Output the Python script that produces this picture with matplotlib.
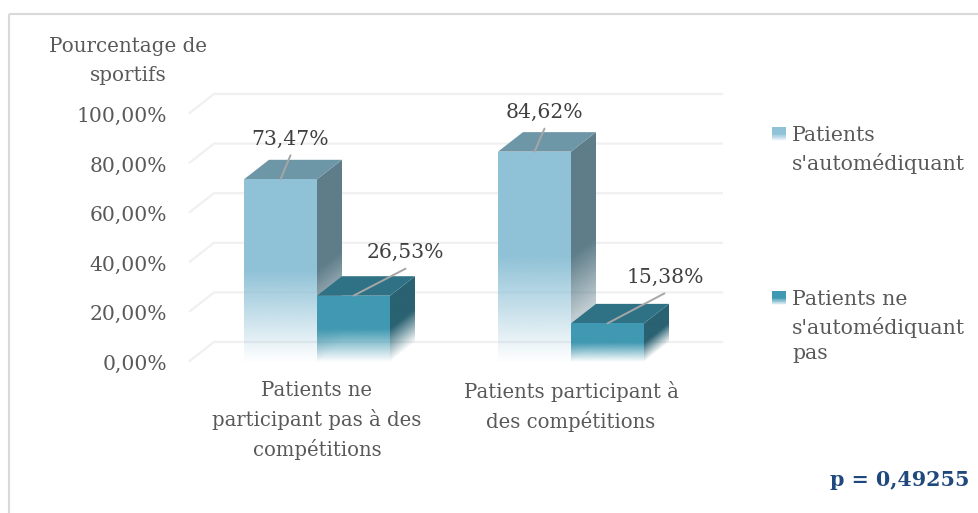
import numpy as np
import matplotlib
matplotlib.use("Agg")
import matplotlib.pyplot as plt
from matplotlib.colors import to_rgb
from matplotlib.patches import Polygon, Rectangle
from matplotlib.transforms import Affine2D, ScaledTranslation

categories = ["Patients ne\nparticipant pas à des\ncompétitions", "Patients participant à\ndes compétitions"]
series_names = ["Patients\ns'automédiquant", "Patients ne\ns'automédiquant\npas"]
automed = [73.47, 84.62]
non_automed = [26.53, 15.38]
labels_a = ["73,47%", "84,62%"]
labels_b = ["26,53%", "15,38%"]
yticks = [0, 20, 40, 60, 80, 100]
yticklabels = ["0,00%", "20,00%", "40,00%", "60,00%", "80,00%", "100,00%"]

W, H = 979, 513
FONT = "DejaVu Serif"
plt.rcParams["font.family"] = FONT
fig = plt.figure(figsize=(W / 100, H / 100), dpi=100, facecolor="white")
PX = Affine2D().scale(1, -1).translate(0, H)

# plot area in pixels
L, R, B, T = 189, 723, 361.5, 113.5
ax = fig.add_axes([L / W, 1 - B / H, (R - L) / W, (B - T) / H])
ax.patch.set_alpha(0)
for s in ax.spines.values():
    s.set_visible(False)
per_cat = 254.0
per_pct = (B - T) / 100
x0px = 317
xlim = ((L - x0px) / per_cat, (R - x0px) / per_cat)
depth_x = 25 / per_cat
depth_y = 19.5 / per_pct
bar_w = 73 / per_cat

# chart border
fig.add_artist(Rectangle((9, 13.5), 990, 520, transform=PX, fill=False, ec="#D9D9D9", lw=1.5))

# walls: floor + back grid
GRID = "#F0F0F0"
for v in yticks:
    ax.plot([xlim[0], xlim[0] + depth_x, xlim[1]], [v, v + depth_y, v + depth_y],
            color=GRID, lw=1.6, clip_on=False, zorder=1, solid_capstyle="butt", solid_joinstyle="round")


def face(x0, x1, rise, h, colour, z):
    """Sheared quad with vertical fade: solid on upper half, fading on lower half."""
    nx, ny = 60, 400
    y_top = h + rise
    xs = np.linspace(0, 1, nx)
    ys = np.linspace(0, y_top, ny)
    XX, YY = np.meshgrid(xs, ys)
    t = (YY - XX * rise) / h
    rgba = np.zeros((ny, nx, 4))
    rgba[..., :3] = to_rgb(colour)
    rgba[..., 3] = np.clip(t / 0.5, 0.02, 1)
    im = ax.imshow(rgba, extent=(x0, x1, 0, y_top), origin="lower", aspect="auto",
                   interpolation="bilinear", zorder=z)
    poly = Polygon([(x0, 0), (x1, rise), (x1, h + rise), (x0, h)], closed=True,
                   transform=ax.transData, fc="none", ec="none")
    im.set_clip_path(poly)


def bar3d(xc, v, front, top, side, z):
    l, r = xc - bar_w / 2, xc + bar_w / 2
    face(r, r + depth_x, depth_y, v, side, z)
    ax.add_patch(Polygon([(l, v), (r, v), (r + depth_x, v + depth_y), (l + depth_x, v + depth_y)],
                         closed=True, fc=top, ec="none", zorder=z, clip_on=False))
    face(l, r, 0, v, front, z + 0.1)


FA, TA, SA = "#90C2D7", "#6D97A6", "#5E7D89"
FB, TB, SB = "#4099B2", "#2F7285", "#2A6272"

for i in range(2):
    bar3d(i - bar_w / 2, automed[i], FA, TA, SA, 2 + i)
    bar3d(i + bar_w / 2, non_automed[i], FB, TB, SB, 2.5 + i)

# data labels with leader lines: (line dx, line dy, text dx, text dy) in pixels
LINE = "#A6A6A6"
TXT = "#404040"
ann = [
    (0 - bar_w / 2, automed[0], labels_a[0], 10, 24, 10, 40),
    (0 + bar_w / 2, non_automed[0], labels_b[0], 52, 27, 52, 43),
    (1 - bar_w / 2, automed[1], labels_a[1], 10, 23, 10, 39),
    (1 + bar_w / 2, non_automed[1], labels_b[1], 57, 30, 58, 46),
]
for x, v, s, lx, ly, tx, ty in ann:
    ax.annotate("", xy=(x, v), xytext=(lx * 0.72, ly * 0.72), textcoords="offset points",
                arrowprops=dict(arrowstyle="-", color=LINE, lw=1.4, shrinkA=0, shrinkB=0),
                annotation_clip=False, zorder=8)
    ax.annotate(s, xy=(x, v), xytext=(tx * 0.72, ty * 0.72), textcoords="offset points",
                ha="center", va="center", fontsize=14.7, color=TXT, zorder=9, annotation_clip=False)

ax.set_xlim(*xlim)
ax.set_ylim(0, 100)
ax.set_yticks(yticks)
ax.set_yticklabels(yticklabels, fontsize=14.6, color="#595959")
ax.set_xticks([0, 1])
ax.set_xticklabels(categories, fontsize=14.1, color="#595959", linespacing=1.52)
ax.tick_params(axis="both", length=0)
ax.tick_params(axis="y", pad=15.8)
ax.tick_params(axis="x", pad=14)
for lab in ax.get_yticklabels():
    lab.set_transform(lab.get_transform() + ScaledTranslation(0, -1 / 100, fig.dpi_scale_trans))

# axis title
fig.text(128, 61, "Pourcentage de\nsportifs", transform=PX, ha="center", va="center",
         fontsize=14.3, color="#595959", linespacing=1.65)

# legend
for name, col, ytop, ytext in zip(series_names, [FA, FB], [127, 291], [126, 290]):
    n = 20
    t = np.linspace(0, 1, n + 1)
    X = np.column_stack([np.full(n + 1, 772.0), np.full(n + 1, 786.0)])
    Y = np.column_stack([ytop + t * 14, ytop + t * 14])
    rgba = np.zeros((n, 1, 4))
    rgba[:, 0, :3] = to_rgb(col)
    rgba[:, 0, 3] = np.clip((1 - (t[:-1] + t[1:]) / 2) / 0.5, 0.05, 1)
    ax.pcolormesh(X, Y, rgba, shading="flat", transform=PX, clip_on=False, antialiased=False, linewidth=0)
    fig.text(792, ytext, name, transform=PX, ha="left", va="top", fontsize=14.7, color="#595959", linespacing=1.45)
ax.set_xlim(*xlim)
ax.set_ylim(0, 100)

fig.text(969, 480, "p = 0,49255", transform=PX, ha="right", va="center", fontsize=14.9,
         fontweight="bold", color="#1F497D")

fig.savefig("out.png", dpi=100)
